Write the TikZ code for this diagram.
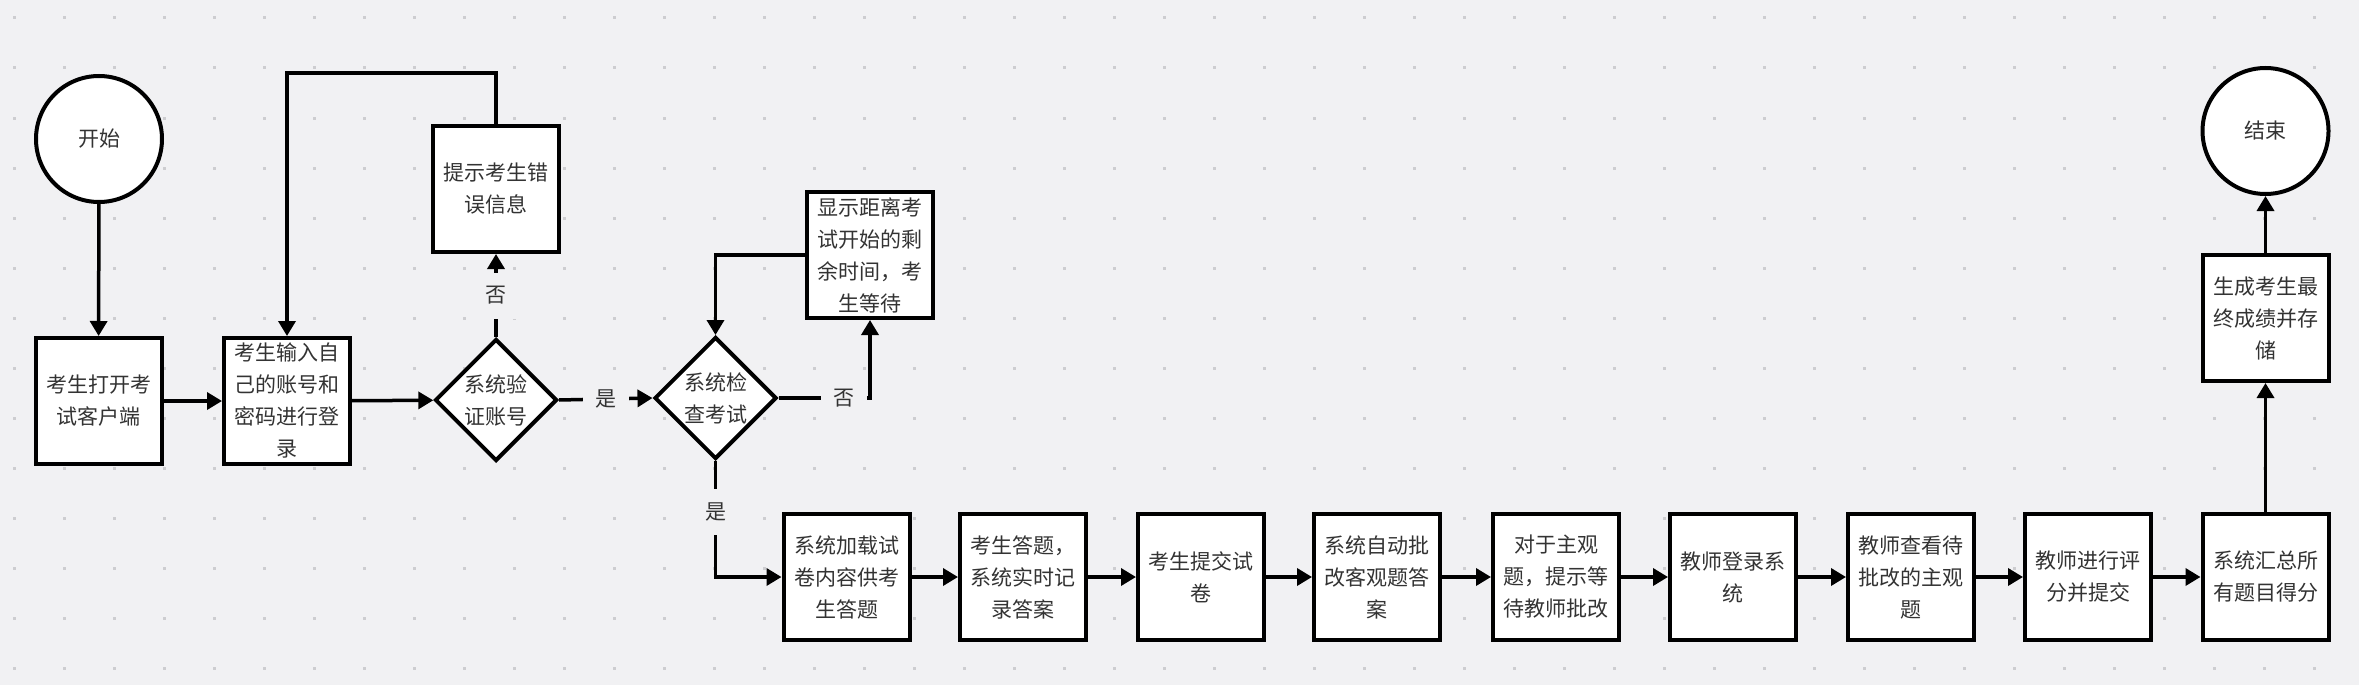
\documentclass[tikz,border=0pt]{standalone}
\usepackage{fontspec}
\newfontfamily\cjk{Noto Sans CJK SC}
\usetikzlibrary{arrows.meta,shapes.geometric}
\definecolor{bg}{HTML}{F1F1F3}
\definecolor{dotc}{HTML}{CDCDD0}
\definecolor{txt}{HTML}{333333}
\begin{document}
\begin{tikzpicture}[x=1pt,y=1pt,
 box/.style={draw=black, line width=4pt, fill=white, minimum width=126pt, minimum height=126pt, inner sep=0pt, text=txt, align=center, font=\cjk\fontsize{21pt}{32pt}\selectfont},
 dia/.style={box, shape=diamond, aspect=1, minimum width=122pt, minimum height=122pt},
 term/.style={box, shape=circle, minimum size=126pt},
 arr/.style={draw=black, line width=3.5pt, -{Triangle[length=15pt,width=17pt]}},
 lbl/.style={fill=bg, inner sep=0pt, minimum size=46pt, text=txt, font=\cjk\fontsize{21pt}{25pt}\selectfont},
]
\fill[bg] (0,0) rectangle (2359,-685);
\useasboundingbox (0,0) rectangle (2359,-685);
\foreach \x in {14,64,...,2359}{\foreach \y in {18,68,...,685}{\fill[dotc] (\x-1.5,-\y-1.5) rectangle ++(3,3);}}
% nodes
\node[term] (start) at (99,-139) {开始};
\node[box] (b1) at (98.5,-401) {考生打开考\\试客户端};
\node[box] (b2) at (287,-401) {考生输入自\\己的账号和\\密码进行登\\录};
\node[dia] (d1) at (496,-400) {系统验\\证账号};
\node[box] (err) at (496,-189) {提示考生错\\误信息};
\node[dia] (d2) at (715.5,-398) {系统检\\查考试};
\node[box] (wait) at (870,-255) {显示距离考\\试开始的剩\\余时间，考\\生等待};
\node[box] (b3) at (846.5,-577) {系统加载试\\卷内容供考\\生答题};
\node[box] (b4) at (1023,-577) {考生答题，\\系统实时记\\录答案};
\node[box] (b5) at (1201,-577) {考生提交试\\卷};
\node[box] (b6) at (1377,-577) {系统自动批\\改客观题答\\案};
\node[box] (b7) at (1556,-577) {对于主观\\题，提示等\\待教师批改};
\node[box] (b8) at (1733,-577) {教师登录系\\统};
\node[box] (b9) at (1911,-577) {教师查看待\\批改的主观\\题};
\node[box] (b10) at (2088,-577) {教师进行评\\分并提交};
\node[box] (b11) at (2265.5,-577) {系统汇总所\\有题目得分};
\node[box] (b12) at (2265.5,-318) {生成考生最\\终成绩并存\\储};
\node[term] (end) at (2265.5,-131) {结束};
\coordinate (loopy) at (0,-73);
% connectors
\draw[arr] (start) -- (b1);
\draw[arr] (b1) -- (b2);
\draw[arr] (b2) -- (d1);
\draw[arr] (d1.north) -- node[lbl]{否} (err.south);
\draw[arr] (err.north) -- (err.north |- loopy) -| (b2.north);
\draw[arr] (d1.east) -- node[lbl]{是} (d2.west);
\draw[arr] (d2.east) -| node[lbl,pos=0.36]{否} (wait.south);
\draw[arr] (wait.west) -| (d2.north);
\draw[arr] (d2.south) |- node[lbl,pos=0.22]{是} (b3.west);
\draw[arr] (b3) -- (b4);
\draw[arr] (b4) -- (b5);
\draw[arr] (b5) -- (b6);
\draw[arr] (b6) -- (b7);
\draw[arr] (b7) -- (b8);
\draw[arr] (b8) -- (b9);
\draw[arr] (b9) -- (b10);
\draw[arr] (b10) -- (b11);
\draw[arr] (b11) -- (b12);
\draw[arr] (b12) -- (end);
\end{tikzpicture}
\end{document}
